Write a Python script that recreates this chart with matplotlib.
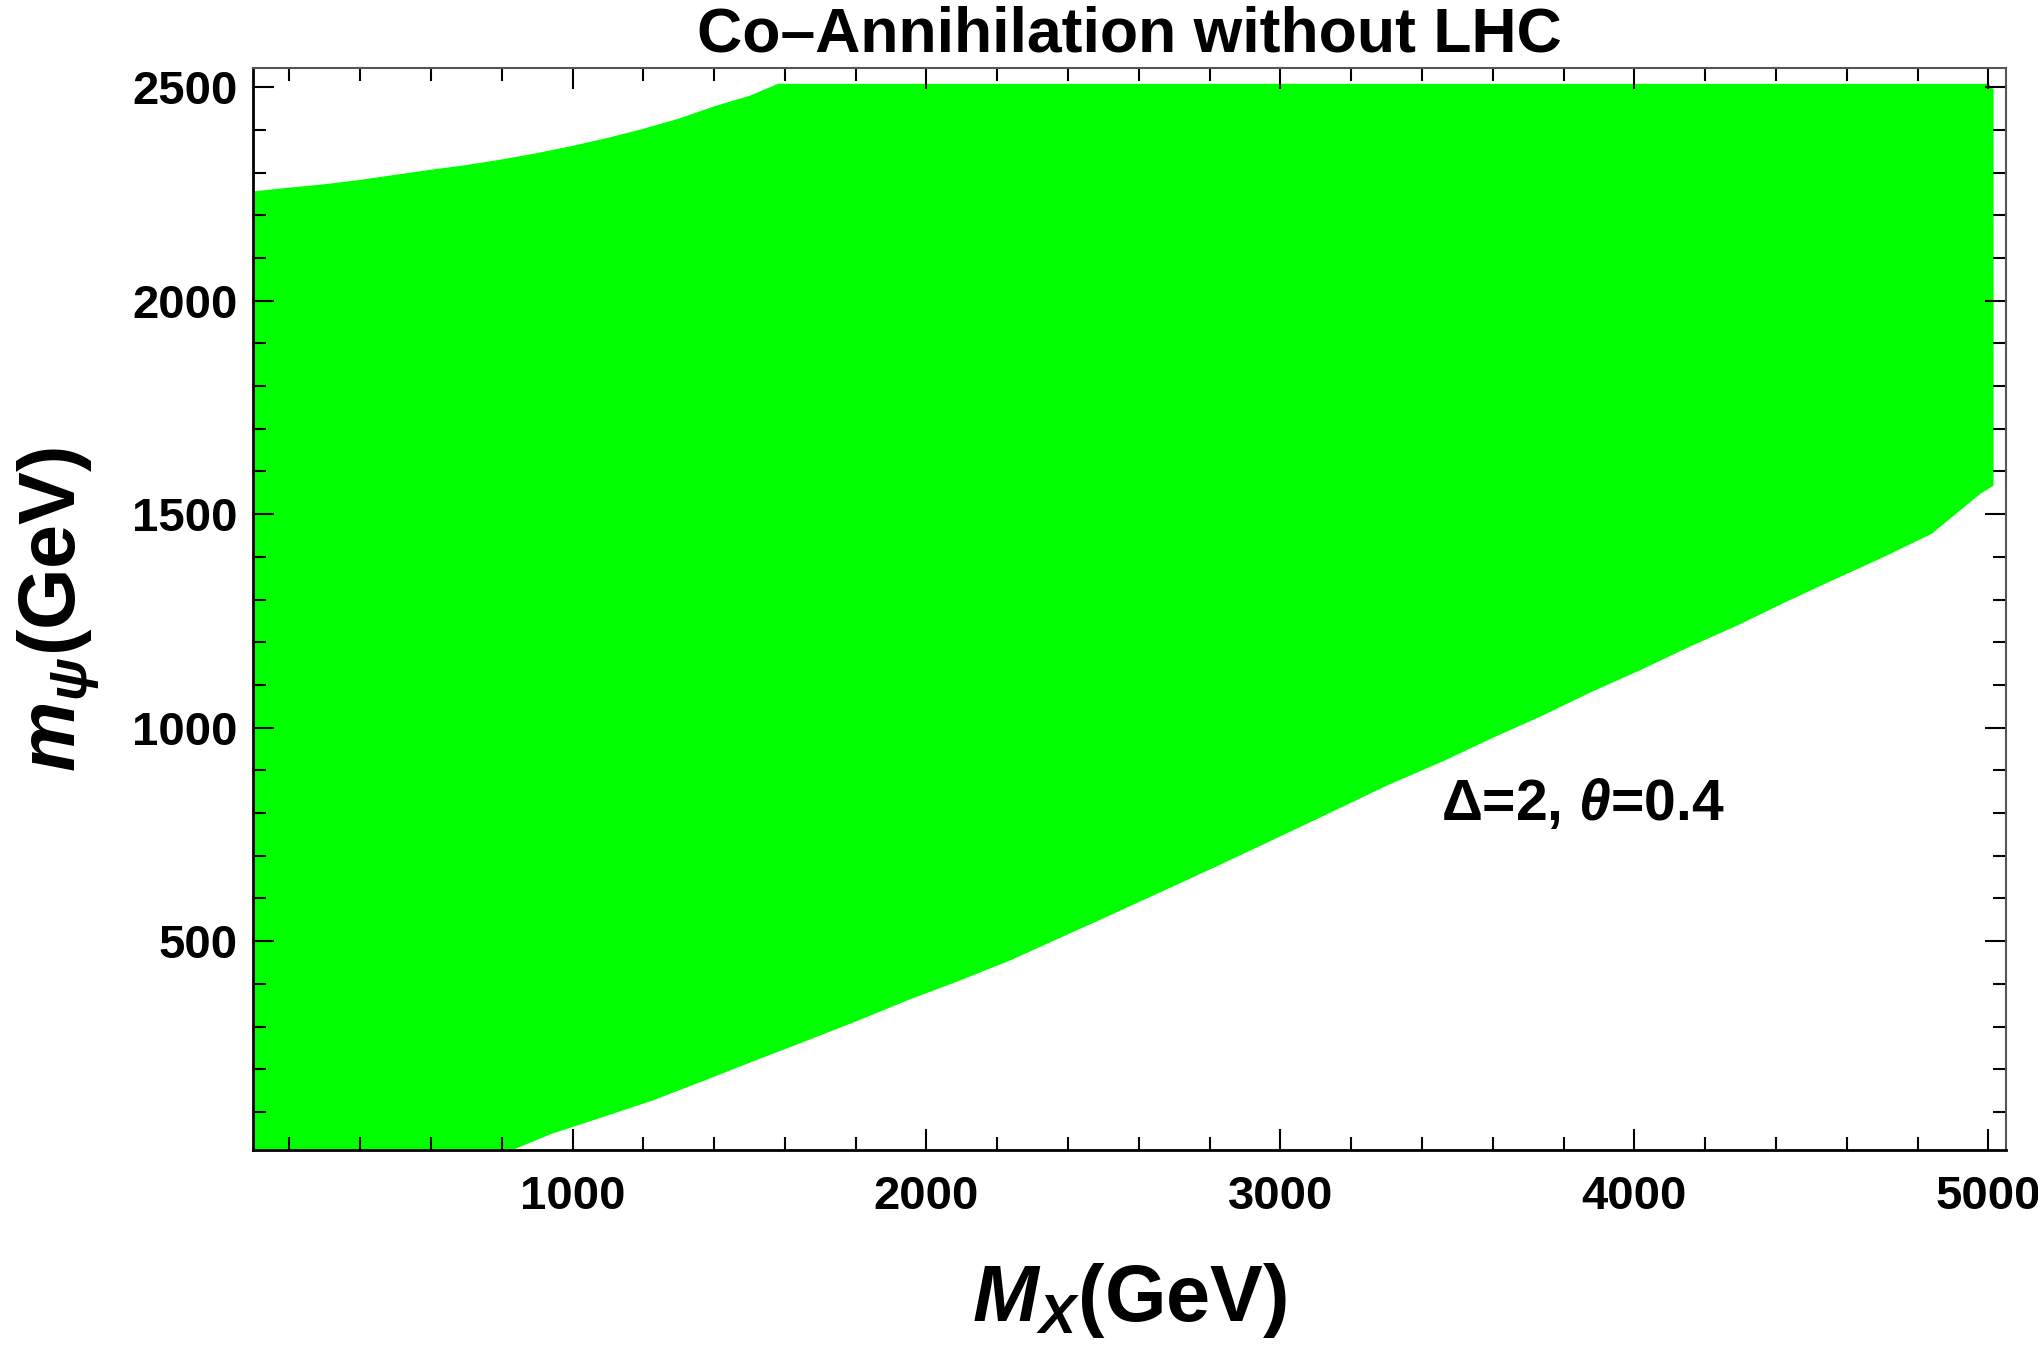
import matplotlib
matplotlib.use("Agg")
import matplotlib.pyplot as plt
from matplotlib.ticker import MultipleLocator

plt.rcParams['font.family'] = ['Liberation Sans', 'DejaVu Sans']
plt.rcParams['font.weight'] = 'bold'
plt.rcParams['mathtext.fontset'] = 'custom'
plt.rcParams['mathtext.rm'] = 'Liberation Sans:bold'
plt.rcParams['mathtext.bf'] = 'Liberation Sans:bold'
plt.rcParams['mathtext.it'] = 'Liberation Sans:bold:italic'
plt.rcParams['mathtext.bfit'] = 'Liberation Sans:bold:italic'

# allowed region boundary
# upper edge, left -> right
upper_x = [100, 191, 292, 392, 493, 594, 695, 795, 896, 997, 1098, 1198, 1299,
           1400, 1501, 1581, 5000, 5015]
upper_y = [2256, 2264, 2272, 2282, 2294, 2306, 2317, 2330, 2345, 2362, 2381, 2402,
           2426, 2455, 2480, 2508, 2508, 2495]
# lower edge, right -> left
lower_x = [5015, 4978, 4840, 4703, 4565, 4427, 4290, 4152, 4015, 3877, 3740, 3602,
           3464, 3300, 3093, 2958, 2814, 2670, 2525, 2381, 2237, 2092, 1948, 1804,
           1659, 1515, 1371, 1227, 1082, 938, 822, 100]
lower_y = [1567, 1548, 1454, 1399, 1347, 1294, 1239, 1188, 1134, 1083, 1028, 977,
           923, 864, 782, 729, 673, 618, 563, 509, 455, 407, 362, 313,
           266, 220, 173, 127, 87, 48, 8, 8]

x_ticks = [1000, 2000, 3000, 4000, 5000]
y_ticks = [500, 1000, 1500, 2000, 2500]

fig = plt.figure(figsize=(20.38, 13.51), dpi=100)
ax = fig.add_axes([0.1241, 0.1488, 0.8602, 0.8009])

# closed polygon: upper edge left->right, then lower edge right->left
poly_x = upper_x + lower_x
poly_y = upper_y + lower_y
ax.fill(poly_x, poly_y, color='#00ff00', lw=0)

ax.set_xlim(97, 5050)
ax.set_ylim(11, 2545)

ax.set_xticks(x_ticks)
ax.set_yticks(y_ticks)
ax.xaxis.set_minor_locator(MultipleLocator(200))
ax.yaxis.set_minor_locator(MultipleLocator(100))
ax.tick_params(which='both', direction='in', top=True, right=True, color='black')
ax.tick_params(which='major', length=15, width=1.5)
ax.tick_params(which='minor', length=9.5, width=1.5)
ax.tick_params(axis='x', labelsize=34, pad=18)
ax.tick_params(axis='y', labelsize=34, pad=11)

for side in ['left', 'bottom']:
    ax.spines[side].set_linewidth(2.0)
    ax.spines[side].set_color('black')
for side in ['top', 'right']:
    ax.spines[side].set_linewidth(1.5)
    ax.spines[side].set_color('#555555')

ax.set_xlabel(r'$\mathbfit{M}_{\mathbfit{X}}$(GeV)', fontsize=57, fontweight='bold', labelpad=30)
ax.set_ylabel(r'$\mathbfit{m}_{\mathbfit{\psi}}$(GeV)', fontsize=57, fontweight='bold', labelpad=22)
ax.set_title('Co\u2013Annihilation without LHC', fontsize=45, fontweight='bold', pad=12)

ax.text(3853, 784, r'$\mathbf{\Delta}$=2, $\mathbfit{\theta}$=0.4', fontsize=41,
        fontweight='bold', ha='center', va='baseline')

fig.savefig('out.png', dpi=100)
